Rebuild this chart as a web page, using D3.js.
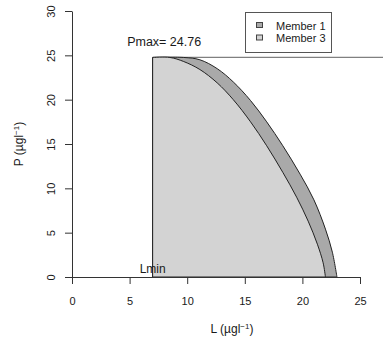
<!DOCTYPE html>
<html>
<head>
<meta charset="utf-8">
<script src="https://cdn.jsdelivr.net/npm/d3@7"></script>
<style>
  body { margin: 0; background: #fff; }
  text { font-family: "Liberation Sans", Arial, sans-serif; }
</style>
</head>
<body>
<div id="chart"></div>
<script>
// values
var Lmin = 7;
var Pmax = 24.76;
var xTicks = [0, 5, 10, 15, 20, 25];
var yTicks = [0, 5, 10, 15, 20, 25, 30];
var seriesNames = ["Member 1", "Member 3"];
var seriesFill = ["#a9a9a9", "#d3d3d3"];

// boundary of each member (L, P) from top of the plateau down to P = 0
var member1L = [7, 9.7, 11.1, 12.6, 14.0, 15.5, 16.9, 18.3, 19.8, 21.0, 22.0, 22.6, 23.0];
var member1P = [24.76, 24.76, 24.5, 23.5, 22.0, 19.9, 17.5, 14.8, 11.6, 8.7, 5.4, 2.8, 0];
var member3L = [7, 8.5, 9.7, 11.1, 12.6, 14.0, 15.5, 16.9, 18.3, 19.5, 20.5, 21.3, 21.8, 22.0];
var member3P = [24.76, 24.76, 24.3, 23.4, 21.9, 20.0, 17.5, 14.8, 11.8, 9.0, 6.3, 3.7, 1.6, 0];

const width = 383;
const height = 343;
const ink = '#1a1a1a';

const xScale = d3.scaleLinear().domain([0, 25]).range([72, 360]);
const yScale = d3.scaleLinear().domain([0, 30]).range([277, 11]);

let svg = d3.select('#chart')
    .append('svg')
        .attr('width', width)
        .attr('height', height);

// Pmax line, from Lmin to the edge
svg.append('line')
    .attr('x1', xScale(Lmin))
    .attr('x2', width)
    .attr('y1', yScale(Pmax))
    .attr('y2', yScale(Pmax))
    .attr('stroke', '#808080')
    .attr('stroke-width', 1.2);

const curve = d3.line()
    .x((d) => xScale(d[0]))
    .y((d) => yScale(d[1]))
    .curve(d3.curveCatmullRom.alpha(0.5));

function region(L, P) {
    let pts = L.map((l, i) => [l, P[i]]);
    return 'M' + xScale(Lmin) + ',' + yScale(0) + 'L' + curve(pts).slice(1) + 'Z';
}

let members = [[member1L, member1P], [member3L, member3P]];
svg.selectAll('path.member')
    .data(members)
    .enter()
        .append('path')
            .attr('class', 'member')
            .attr('d', (d) => region(d[0], d[1]))
            .attr('fill', (d, i) => seriesFill[i])
            .attr('stroke', '#222')
            .attr('stroke-width', 1);

// x-axis
let xAxis = svg.append('g')
    .attr('transform', `translate(0, ${yScale(0)})`)
    .call(d3.axisBottom(xScale).tickValues(xTicks).tickSize(7).tickSizeOuter(0).tickPadding(13));
xAxis.selectAll('text').style('font-size', '11px').attr('fill', ink);

// y-axis
let yAxis = svg.append('g')
    .attr('transform', `translate(${xScale(0)}, 0)`)
    .call(d3.axisLeft(yScale).tickValues(yTicks).tickSize(7).tickSizeOuter(0));
yAxis.selectAll('text')
    .style('font-size', '11px')
    .attr('fill', ink)
    .attr('text-anchor', 'middle')
    .attr('x', 0)
    .attr('y', -17)
    .attr('dy', 0)
    .attr('transform', 'rotate(-90)');

svg.selectAll('.domain, .tick line').attr('stroke', '#333');

// labels
svg.append('text')
    .attr('x', xScale(8))
    .attr('y', yScale(26))
    .attr('text-anchor', 'middle')
    .attr('fill', ink)
    .style('font-size', '12.5px')
    .text('Pmax= ' + Pmax);

svg.append('text')
    .attr('x', xScale(Lmin))
    .attr('y', yScale(0) - 4)
    .attr('text-anchor', 'middle')
    .attr('fill', ink)
    .style('font-size', '12px')
    .text('Lmin');

let xt = svg.append('text')
    .attr('x', 232)
    .attr('y', 333)
    .attr('text-anchor', 'middle')
    .attr('fill', ink)
    .style('font-size', '12px');
xt.append('tspan').text('L (µgl');
xt.append('tspan').attr('dy', -4).style('font-size', '8px').text('−1');
xt.append('tspan').attr('dy', 4).text(')');

let yt = svg.append('text')
    .attr('transform', 'translate(23, 144) rotate(-90)')
    .attr('text-anchor', 'middle')
    .attr('fill', ink)
    .style('font-size', '12px');
yt.append('tspan').text('P (µgl');
yt.append('tspan').attr('dy', -4).style('font-size', '8px').text('−1');
yt.append('tspan').attr('dy', 4).text(')');

// legend
let legend = svg.append('g');
legend.append('rect')
    .attr('x', 245.5)
    .attr('y', 12.5)
    .attr('width', 86)
    .attr('height', 40)
    .attr('fill', 'white')
    .attr('stroke', '#555');
seriesNames.forEach(function(name, i) {
    legend.append('rect')
        .attr('x', 256.5)
        .attr('y', 22.5 + i * 12.5)
        .attr('width', 6)
        .attr('height', 5)
        .attr('fill', seriesFill[i])
        .attr('stroke', '#444');
    legend.append('text')
        .attr('x', 276)
        .attr('y', 29.5 + i * 12.5)
        .attr('fill', ink)
        .style('font-size', '11px')
        .text(name);
});
</script>
</body>
</html>
